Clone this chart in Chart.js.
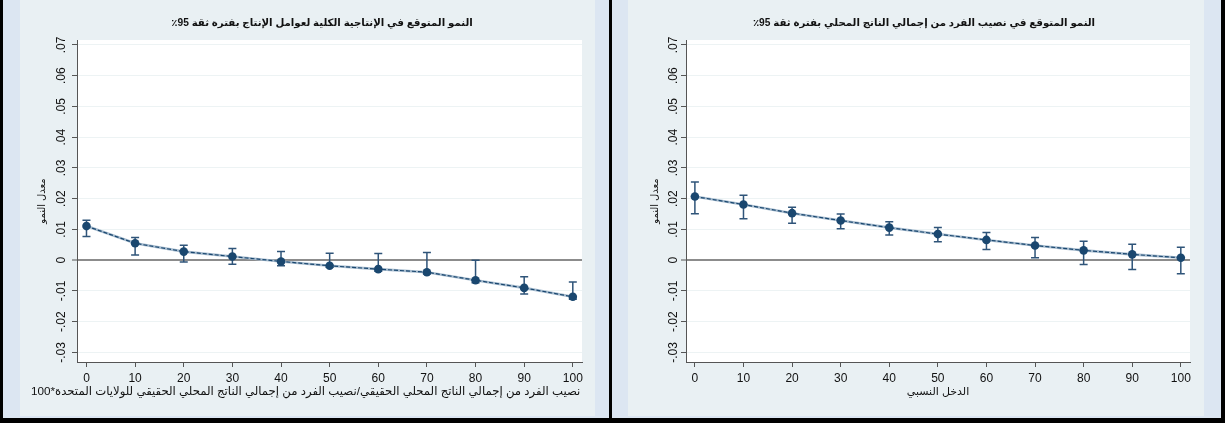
<!DOCTYPE html>
<html lang="ar">
<head>
<meta charset="utf-8">
<script src="https://cdn.jsdelivr.net/npm/chart.js@4.4.1/dist/chart.umd.min.js"></script>
<style>
html,body{margin:0;padding:0;}
body{width:1225px;height:423px;position:relative;overflow:hidden;background:#dce6f2;}
.blk{position:absolute;background:#000;}
.pale{position:absolute;background:#e9f0f3;top:0;height:416px;}
canvas{position:absolute;top:0;}
</style>
</head>
<body>
<div class="pale" style="left:20px;width:575px"></div>
<div class="pale" style="left:628px;width:576px"></div>
<div class="blk" style="left:0;top:0;width:3px;height:423px"></div>
<div class="blk" style="left:609px;top:0;width:3px;height:423px"></div>
<div class="blk" style="left:1221px;top:0;width:4px;height:423px"></div>
<div class="blk" style="left:0;top:418px;width:1225px;height:5px"></div>
<canvas id="c1" width="593" height="416" style="left:20px"></canvas>
<canvas id="c2" width="592" height="416" style="left:628px"></canvas>
<script>
// ---- data ----
const xValues = [0, 10, 20, 30, 40, 50, 60, 70, 80, 90, 100];
const xTickValues = [0, 10, 20, 30, 40, 50, 60, 70, 80, 90, 100];
const xTickLabels = ['0', '10', '20', '30', '40', '50', '60', '70', '80', '90', '100'];
const yTickValues = [-0.03, -0.02, -0.01, 0, 0.01, 0.02, 0.03, 0.04, 0.05, 0.06, 0.07];
const yTickLabels = ['-.03', '-.02', '-.01', '0', '.01', '.02', '.03', '.04', '.05', '.06', '.07'];

const leftEst = [0.0111, 0.0055, 0.0028, 0.0012, -0.0004, -0.0018, -0.0029, -0.0039, -0.0065, -0.0090, -0.0119];
const leftHi  = [0.0130, 0.0074, 0.0049, 0.0038, 0.0028, 0.0023, 0.0022, 0.0025, 0.0000, -0.0054, -0.0071];
const leftLo  = [0.0077, 0.0017, -0.0006, -0.0013, -0.0018, -0.0023, -0.0036, -0.0045, -0.0073, -0.0110, -0.0127];

const rightEst = [0.0207, 0.0181, 0.0153, 0.0129, 0.0106, 0.0085, 0.0066, 0.0048, 0.0032, 0.0019, 0.0008];
const rightHi  = [0.0254, 0.0211, 0.0172, 0.0150, 0.0125, 0.0106, 0.0090, 0.0074, 0.0062, 0.0052, 0.0042];
const rightLo  = [0.0151, 0.0135, 0.0120, 0.0102, 0.0082, 0.0060, 0.0035, 0.0008, -0.0014, -0.0030, -0.0044];

const leftTitle = 'النمو المتوقع في الإنتاجية الكلية لعوامل الإنتاج بفترة ثقة 95٪';
const rightTitle = 'النمو المتوقع في نصيب الفرد من إجمالي الناتج المحلي بفترة ثقة 95٪';
const yTitle = 'معدل النمو';
const leftXTitle = 'نصيب الفرد من إجمالي الناتج المحلي الحقيقي/نصيب الفرد من إجمالي الناتج المحلي الحقيقي للولايات المتحدة*100';
const rightXTitle = 'الدخل النسبي';

// ---- helpers ----
const FONT = "Arial, 'Liberation Sans', 'DejaVu Sans', sans-serif";
const rtl = s => '\u202B' + s + '\u202C';
const NAVY = '#1a476f';
const AXIS = '#555555';

const plotBg = {
  id: 'plotBg',
  beforeDraw(chart) {
    const {ctx, chartArea: a} = chart;
    ctx.save();
    ctx.fillStyle = '#ffffff';
    ctx.fillRect(a.left, a.top, a.right - a.left, a.bottom - a.top);
    ctx.restore();
  }
};

const errorBars = {
  id: 'errorBars',
  beforeDatasetsDraw(chart, args, opts) {
    const {ctx} = chart;
    const xs = chart.scales.x, ys = chart.scales.y;
    ctx.save();
    ctx.strokeStyle = opts.color;
    ctx.lineWidth = opts.width;
    opts.x.forEach((xv, i) => {
      const px = xs.getPixelForValue(xv);
      const pl = ys.getPixelForValue(opts.lo[i]);
      const ph = ys.getPixelForValue(opts.hi[i]);
      ctx.beginPath();
      ctx.moveTo(px, pl); ctx.lineTo(px, ph);
      ctx.moveTo(px - opts.cap, pl); ctx.lineTo(px + opts.cap, pl);
      ctx.moveTo(px - opts.cap, ph); ctx.lineTo(px + opts.cap, ph);
      ctx.stroke();
    });
    ctx.restore();
  }
};

function makeChart(id, cfg) {
  const pts = cfg.est.map((v, i) => ({x: xValues[i], y: v}));
  const bottomTitle = cfg.xTitleAsSubtitle;
  return new Chart(document.getElementById(id), {
    type: 'line',
    data: {
      datasets: [
        { data: pts, borderColor: NAVY, borderWidth: 1.2, borderDash: [4, 2],
          pointRadius: 4.3, pointBackgroundColor: NAVY, pointBorderWidth: 0, tension: 0 },
        { data: pts, borderColor: '#a7bccf', borderWidth: 2.6, pointRadius: 0, tension: 0 }
      ]
    },
    plugins: [plotBg, errorBars],
    options: {
      responsive: false, animation: false, devicePixelRatio: 1,
      layout: { padding: { left: cfg.padLeft, right: 0, top: 0, bottom: 0 } },
      plugins: {
        legend: { display: false },
        tooltip: { enabled: false },
        title: { display: true, text: rtl(cfg.title), color: '#111',
          font: { family: FONT, size: 10.2, weight: 'bold' }, fullSize: true,
          padding: { top: 17.4, bottom: 10.4 } },
        subtitle: { display: bottomTitle, position: 'bottom', align: 'start', fullSize: true,
          text: rtl(cfg.xTitle), color: '#111', font: { family: FONT, size: 11.7 },
          padding: { top: 0, bottom: 17 } },
        errorBars: { x: xValues, lo: cfg.lo, hi: cfg.hi, color: '#2f5479', width: 1.5, cap: 4 }
      },
      scales: {
        x: {
          type: 'linear', position: 'bottom', min: cfg.xmin, max: cfg.xmax,
          afterBuildTicks: s => { s.ticks = xTickValues.map(v => ({value: v})); },
          ticks: { autoSkip: false, minRotation: 0, maxRotation: 0, padding: 4, color: '#111',
            font: { family: FONT, size: 12 }, callback: (v, i) => xTickLabels[i] },
          grid: { drawOnChartArea: false, drawTicks: true, tickLength: 5, tickColor: AXIS, tickWidth: 1 },
          border: { display: true, color: AXIS, width: 1 },
          title: { display: !bottomTitle, text: rtl(cfg.xTitle), color: '#111',
            font: { family: FONT, size: 11 }, padding: { top: 0, bottom: 17.4 } },
          afterFit: s => { s.height = bottomTitle ? 54 - 31.04 : 54; }
        },
        y: {
          type: 'linear', position: 'left', min: -0.0331, max: 0.0716,
          afterBuildTicks: s => { s.ticks = yTickValues.map(v => ({value: v})); },
          ticks: { autoSkip: false, minRotation: 90, maxRotation: 90, crossAlign: 'center',
            padding: cfg.yPad, color: '#111', font: { family: FONT, size: 12 },
            callback: (v, i) => yTickLabels[i] },
          grid: {
            color: c => (c.tick && c.tick.value === 0) ? '#8c8c8c' : '#edf3f4',
            lineWidth: c => (c.tick && c.tick.value === 0) ? 2 : 1,
            tickLength: 5, tickColor: AXIS, tickWidth: 1
          },
          border: { display: true, color: AXIS, width: 1 },
          title: { display: true, text: rtl(yTitle), color: '#111',
            font: { family: FONT, size: 10 }, padding: { top: cfg.yTitlePad, bottom: 0 } },
          afterFit: s => { s.width = cfg.yWidth; }
        },
        pad: {
          type: 'linear', position: 'right', display: true,
          grid: { display: false }, ticks: { display: false }, border: { display: false },
          afterFit: s => { s.width = cfg.rightPad; }
        }
      }
    }
  });
}

makeChart('c1', {
  title: leftTitle, xTitle: leftXTitle, xTitleAsSubtitle: true, padLeft: 11,
  est: leftEst, lo: leftLo, hi: leftHi,
  xmin: -1.95, xmax: 101.89, yWidth: 46, yPad: -0.3, yTitlePad: 5, rightPad: 31
});
makeChart('c2', {
  title: rightTitle, xTitle: rightXTitle, xTitleAsSubtitle: false, padLeft: 0,
  est: rightEst, lo: rightLo, hi: rightHi,
  xmin: -1.83, xmax: 101.89, yWidth: 58, yPad: -3, yTitlePad: 21, rightPad: 30
});
</script>
</body>
</html>
